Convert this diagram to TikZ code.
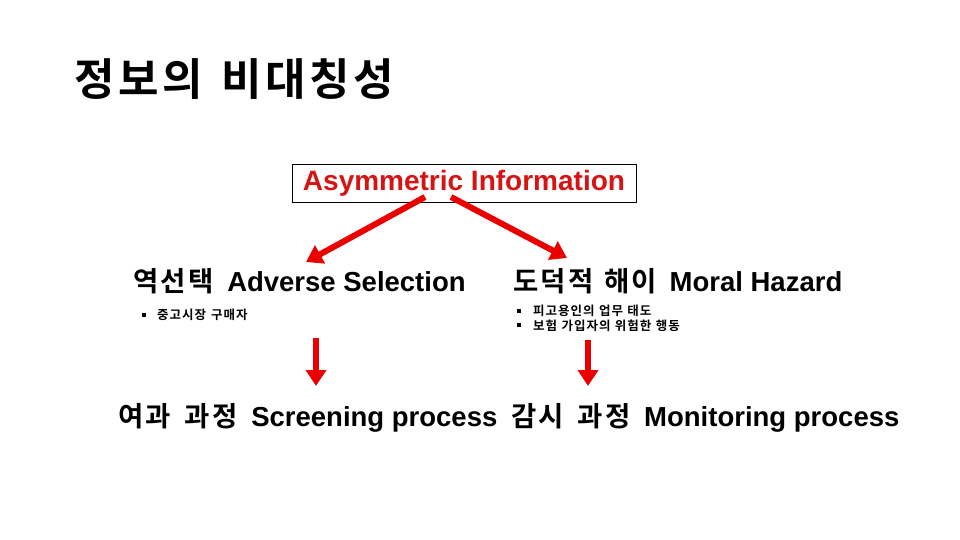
\documentclass[tikz,border=0pt]{standalone}
\usepackage{fontspec}
\setmainfont{Liberation Sans}
\newfontfamily\kr{Noto Sans CJK KR}[BoldFont={Noto Sans CJK KR Bold},LetterSpace=8]
\newcommand\ksp{\hspace{0.4em}}
\newcommand\bsp{\hspace{0.5em}}
\newcommand\sbul{\raisebox{3pt}{\rule{4pt}{4pt}}}
\usetikzlibrary{arrows.meta}
\definecolor{arrred}{RGB}{235,0,0}
\definecolor{txtred}{RGB}{215,20,20}
\tikzset{
  redarrow/.style={draw=arrred, line width=6pt, -{Triangle[length=16pt,width=20pt]}},
  head/.style={anchor=west, inner sep=0pt, font=\fontsize{27.5}{30}\selectfont\bfseries},
  bullets/.style={anchor=north west, inner sep=0pt, align=left, font=\fontsize{12.5}{14.5}\selectfont\kr\bfseries},
}
\begin{document}
\begin{tikzpicture}[x=1pt,y=-1pt]
\useasboundingbox[fill=white] (0,0) rectangle (960,540);
\node[anchor=west, inner sep=0pt, font=\fontsize{44}{48}\selectfont\kr\bfseries] (title) at (74,79) {정보의\hspace{0.42em}비대칭성};
\node[draw=black, line width=0.6pt, minimum width=344pt, minimum height=38pt, inner sep=0pt, text=txtred, font=\fontsize{28}{30}\selectfont\bfseries] (ai) at (464,183) {Asymmetric Information};
\node[head] (as) at (133,281) {{\kr 역선택}\hspace{0.5em}Adverse Selection};
\node[head] (mh) at (513,281) {{\kr 도덕적\ksp 해이}\hspace{0.45em}Moral Hazard};
\node[bullets] (b1) at (142,309) {\sbul\hspace{11pt}중고시장\hspace{0.4em}구매자};
\node[bullets] (b2) at (517,305) {\sbul\hspace{12pt}피고용인의\hspace{0.35em}업무\hspace{0.35em}태도\\\sbul\hspace{12pt}보험\hspace{0.35em}가입자의\hspace{0.35em}위험한\hspace{0.35em}행동};
\node[anchor=west, inner sep=0pt, font=\fontsize{27.5}{30}\selectfont\bfseries] (bot) at (118,418) {{\kr 여과\bsp 과정}\bsp Screening process\bsp{\kr 감시\bsp 과정}\bsp Monitoring process};
\coordinate (a1s) at (425,197);
\coordinate (a1e) at (306,262);
\coordinate (a2s) at (451,197);
\coordinate (a2e) at (567,258);
\coordinate (d1s) at (316,338);
\coordinate (d1e) at (316,386);
\coordinate (d2s) at (588,340);
\coordinate (d2e) at (588,386);
\draw[redarrow] (a1s) -- (a1e);
\draw[redarrow] (a2s) -- (a2e);
\draw[redarrow] (d1s) -- (d1e);
\draw[redarrow] (d2s) -- (d2e);
\end{tikzpicture}
\end{document}
